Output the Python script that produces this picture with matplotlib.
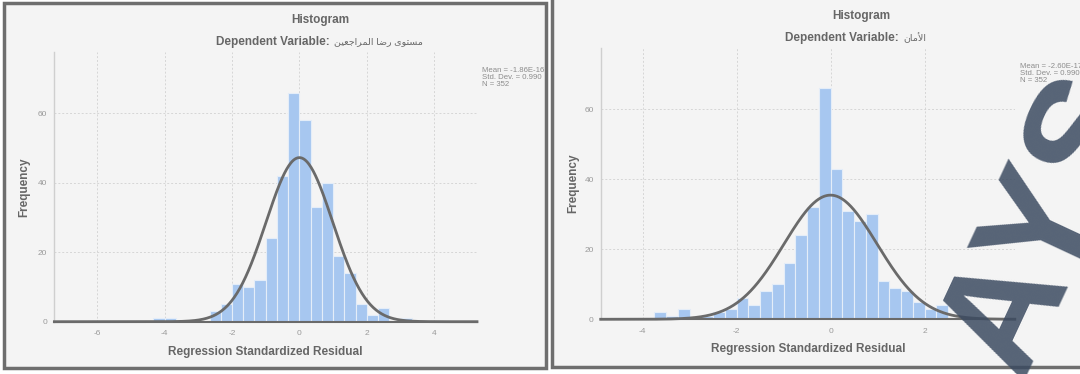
import numpy as np
import matplotlib
matplotlib.use("Agg")
import matplotlib.pyplot as plt
from matplotlib.patches import Rectangle

plt.rcParams["axes.unicode_minus"] = False

# ---- data ----
# left chart: bins of 1/3 starting at -13/3
left_counts = [1, 1, 0, 0, 0, 3, 5, 11, 10, 12, 24, 42, 66, 58, 33, 40, 19, 14, 5, 2, 4, 0, 1]
left_start, left_width = -13 / 3, 1 / 3
left_mean, left_sd, left_n = -1.86e-16, 0.990, 352
left_stats = "Mean = -1.86E-16\nStd. Dev. = 0.990\nN = 352"
left_dep = "\ufee6\ufef4\ufecc\ufe9f\ufe8d\ufeae\ufee4\ufedf\ufe8d \ufe8e\ufebf\ufead \ufeef\ufeee\ufe98\ufeb4\ufee3"  # مستوى رضا المراجعين
left_xticks = [-6, -4, -2, 0, 2, 4]

# right chart: bins of 0.25 starting at -3.75
right_counts = [2, 1, 3, 0, 1, 2, 3, 6, 4, 8, 10, 16, 24, 32, 66, 43, 31, 28, 30, 11, 9, 8, 5, 3, 4]
right_start, right_width = -3.75, 0.25
right_mean, right_sd, right_n = -2.60e-17, 0.990, 352
right_stats = "Mean = -2.60E-17\nStd. Dev. = 0.990\nN = 352"
right_dep = "\ufee5\ufe8e\ufee3\ufef7\ufe8d"  # الأمان
right_xticks = [-4, -2, 0, 2]

yticks = [0, 20, 40, 60]

FAM = ["Liberation Sans", "DejaVu Sans"]
W, H = 1080, 374


def fx(px):
    return px / W


def fy(py):
    return 1 - py / H


fig = plt.figure(figsize=(10.8, 3.74), dpi=100)
fig.patch.set_facecolor("white")

# panel frames (drawn under the axes)
fig.patches.append(Rectangle((fx(4), fy(368)), 542 / W, 365 / H, transform=fig.transFigure,
                             facecolor="#f4f4f4", edgecolor="#6e6e6e", lw=2.5, zorder=-5))
fig.patches.append(Rectangle((fx(552), fy(367)), 540 / W, 380 / H, transform=fig.transFigure,
                             facecolor="#f4f4f4", edgecolor="#6e6e6e", lw=2.5, zorder=-5))


def panel(rect, counts, start, width, mean, sd, n, xlim, ylim, xticks):
    ax = fig.add_axes(rect)
    ax.patch.set_visible(False)
    edges = start + width * np.arange(len(counts) + 1)
    ax.bar(edges[:-1], counts, width=width, align="edge", color="#a7c7f0",
           edgecolor="#e4edf8", linewidth=0.8, zorder=2)
    xs = np.linspace(xlim[0], xlim[1], 600)
    ys = n * width * np.exp(-0.5 * ((xs - mean) / sd) ** 2) / (sd * np.sqrt(2 * np.pi))
    ax.plot(xs, ys, color="#6a6a6a", lw=2, zorder=4, clip_on=False)
    ax.set_xlim(*xlim)
    ax.set_ylim(*ylim)
    ax.set_xticks(xticks)
    ax.set_yticks(yticks)
    ax.set_axisbelow(True)
    ax.grid(True, color="#d6d6d6", lw=0.7, ls=(0, (2, 2)))
    ax.tick_params(length=0, labelsize=6, labelcolor="#9a9a9a", pad=6)
    ax.tick_params(axis="y", pad=5)
    for lab in ax.get_xticklabels() + ax.get_yticklabels():
        lab.set_family(FAM)
    for s in ["top", "right"]:
        ax.spines[s].set_visible(False)
    ax.spines["left"].set_color("#cfcfcf")
    ax.spines["left"].set_linewidth(1)
    ax.spines["bottom"].set_color("#6a6a6a")
    ax.spines["bottom"].set_linewidth(1.5)
    return ax


panel([fx(54.4), fy(321.7), 422.6 / W, 270 / H], left_counts, left_start, left_width,
      left_mean, left_sd, left_n, (-7.27, 5.27), (0, 77.8), left_xticks)
panel([fx(600.7), fy(319.3), 414.1 / W, 271 / H], right_counts, right_start, right_width,
      right_mean, right_sd, right_n, (-4.89, 3.92), (0, 77.4), right_xticks)

tc = "#666666"
for cx, ty, sy, split, dep in [(320, 20, 42, 333, left_dep), (861.7, 16, 38, 902, right_dep)]:
    fig.text(fx(cx), fy(ty), "Histogram", ha="center", va="center", fontsize=8.5,
             fontweight="bold", color=tc, family=FAM)
    fig.text(fx(split), fy(sy), "Dependent Variable: ", ha="right", va="center",
             fontsize=8.5, fontweight="bold", color=tc, family=FAM)
    fig.text(fx(split + 1), fy(sy), dep, ha="left", va="center",
             fontsize=6.8, color=tc, family=FAM)

fig.text(fx(24.6), fy(187), "Frequency", rotation=90, ha="center", va="center",
         fontsize=8.5, fontweight="bold", color=tc, family=FAM)
fig.text(fx(573), fy(183), "Frequency", rotation=90, ha="center", va="center",
         fontsize=8.5, fontweight="bold", color=tc, family=FAM)
fig.text(fx(265.6), fy(351.7), "Regression Standardized Residual", ha="center", va="center",
         fontsize=8.5, fontweight="bold", color=tc, family=FAM)
fig.text(fx(808.6), fy(349.3), "Regression Standardized Residual", ha="center", va="center",
         fontsize=8.5, fontweight="bold", color=tc, family=FAM)

fig.text(fx(482), fy(67), left_stats, ha="left", va="top", fontsize=5.6, color="#8c8c8c",
         linespacing=1.05, family=FAM)
fig.text(fx(1020), fy(62.5), right_stats, ha="left", va="top", fontsize=5.6, color="#8c8c8c",
         linespacing=1.05, family=FAM, zorder=12)

# watermark over the right panel
fig.text(fx(1025), fy(262), "LAYS", rotation=65, rotation_mode="anchor", ha="center",
         va="center", fontsize=112, fontweight="bold", color="#3b4a60", alpha=0.85,
         family=FAM, zorder=10)

fig.savefig("out.png", dpi=100)
